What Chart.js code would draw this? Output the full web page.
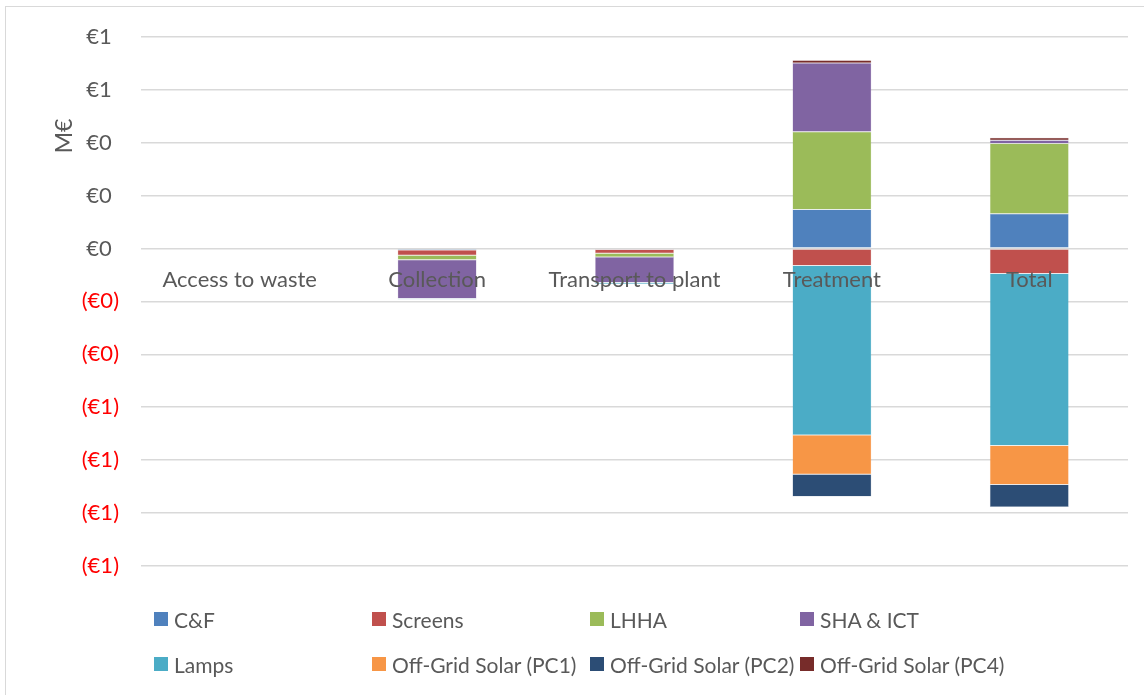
<!DOCTYPE html>
<html>
<head>
<meta charset="utf-8">
<title>Cost breakdown by stage</title>
<script src="https://cdn.jsdelivr.net/npm/chart.js@4.4.1/dist/chart.umd.min.js"></script>
<style>
  html, body { margin: 0; padding: 0; background: #fff; overflow: hidden; }
  #wrap { position: relative; width: 1144px; height: 695px; }
  #frame { position: absolute; left: 5px; top: 6px; width: 1200px; height: 800px;
           border: 1.5px solid #d9d9d9; box-sizing: border-box; }
  #chart { position: absolute; left: 0; top: 0; }
  #legend { position: absolute; left: 0; top: 0; width: 1144px; height: 695px;
            font-family: Lato, "Open Sans", sans-serif; font-size: 21px; color: #595959; }
  .item { position: absolute; display: flex; align-items: center; white-space: nowrap; height: 26px; }
  .swatch { width: 14px; height: 14px; margin-right: 6px; flex: none; }
</style>
</head>
<body>
<div id="wrap">
  <div id="frame"></div>
  <canvas id="chart" width="1144" height="695"></canvas>
  <div id="legend"></div>
</div>
<script>
// Stages along the value chain
const categories = ['Access to waste', 'Collection', 'Transport to plant', 'Treatment', 'Total'];

// Net value per component and stage, M€ (null = no entry)
const cfValues      = [null, -0.006, -0.004,  0.147,  0.131];
const screensValues = [null, -0.020, -0.014, -0.065, -0.095];
const lhhaValues    = [null, -0.017, -0.014,  0.294,  0.265];
const shaIctValues  = [null, -0.146, -0.097,  0.260,  0.013];
const lampsValues   = [null, -0.004, -0.005, -0.640, -0.650];
const pc1Values     = [null,  null,   null,  -0.148, -0.147];
const pc2Values     = [null,  null,   null,  -0.084, -0.085];
const pc4Values     = [null,  null,   null,   0.010,  0.009];

const seriesNames = ['C&F', 'Screens', 'LHHA', 'SHA & ICT', 'Lamps',
                     'Off-Grid Solar (PC1)', 'Off-Grid Solar (PC2)', 'Off-Grid Solar (PC4)'];
const seriesColors = ['#4F81BD', '#C0504D', '#9BBB59', '#8064A2', '#4BACC6',
                      '#F79646', '#2C4D75', '#772C2A'];
const seriesValues = [cfValues, screensValues, lhhaValues, shaIctValues, lampsValues,
                      pc1Values, pc2Values, pc4Values];

// Y axis range and step, M€
const yMin = -1.2, yMax = 0.8, yStep = 0.2;

const FONT = 'Lato, "Open Sans", sans-serif';
const TEXT = '#595959';

// Accounting style: whole euros, negatives in parentheses,
// positives padded on the right so the digits line up
function euroLabel(v) {
  const n = Math.round(Math.abs(v));
  return v < -1e-9 ? '(€' + n + ')' : '€' + n + '\u2004';
}

const axisTitle = {
  id: 'axisTitle',
  afterDraw(chart) {
    const ctx = chart.ctx;
    ctx.save();
    ctx.translate(64.5, 136);
    ctx.rotate(-Math.PI / 2);
    ctx.font = '23px ' + FONT;
    ctx.fillStyle = TEXT;
    ctx.textAlign = 'center';
    ctx.textBaseline = 'middle';
    ctx.fillText('M€', 0, 0);
    ctx.restore();
  }
};

const datasets = seriesNames.map((name, i) => ({
  label: name,
  data: seriesValues[i],
  backgroundColor: seriesColors[i],
  borderColor: seriesColors[i] + '55',
  borderWidth: 0.5,
  borderSkipped: false,
  stack: 'all',
  barPercentage: 0.4,
  categoryPercentage: 1.0
}));

new Chart(document.getElementById('chart'), {
  type: 'bar',
  data: { labels: categories, datasets },
  plugins: [axisTitle],
  options: {
    responsive: false,
    animation: false,
    layout: { padding: { left: 0, right: 16, top: 36.7, bottom: 129 } },
    plugins: { legend: { display: false }, tooltip: { enabled: false } },
    scales: {
      x: {
        stacked: true,
        position: { y: 0 },
        grid: { display: false, drawTicks: false },
        border: { display: false },
        afterFit(scale) { scale.height = 0; },
        ticks: { z: 1, color: TEXT, font: { family: FONT, size: 22 }, padding: 18, maxRotation: 0 }
      },
      y: {
        stacked: true,
        min: yMin,
        max: yMax,
        grid: { color: '#D9D9D9', lineWidth: 1.5, drawTicks: false },
        border: { display: false },
        afterFit(scale) {
          scale.width = 141;
          // only the label half-height needs room above/below the plot
          scale.paddingTop = 13;
          scale.paddingBottom = 13;
        },
        ticks: {
          stepSize: yStep,
          padding: 22,
          font: { family: FONT, size: 22 },
          color: ctx => (ctx.tick && ctx.tick.value < -1e-9) ? '#FF0000' : TEXT,
          callback: v => euroLabel(v)
        }
      }
    }
  }
});

// Legend: four columns, two rows
const legendCols = [154, 372, 590, 800];
const legendRows = [619, 664];
const legend = document.getElementById('legend');
seriesNames.forEach((name, i) => {
  const item = document.createElement('div');
  item.className = 'item';
  item.style.left = legendCols[i % 4] + 'px';
  item.style.top = (legendRows[Math.floor(i / 4)] - 13) + 'px';
  const sw = document.createElement('span');
  sw.className = 'swatch';
  sw.style.background = seriesColors[i];
  const tx = document.createElement('span');
  tx.textContent = name;
  item.appendChild(sw);
  item.appendChild(tx);
  legend.appendChild(item);
});
</script>
</body>
</html>
